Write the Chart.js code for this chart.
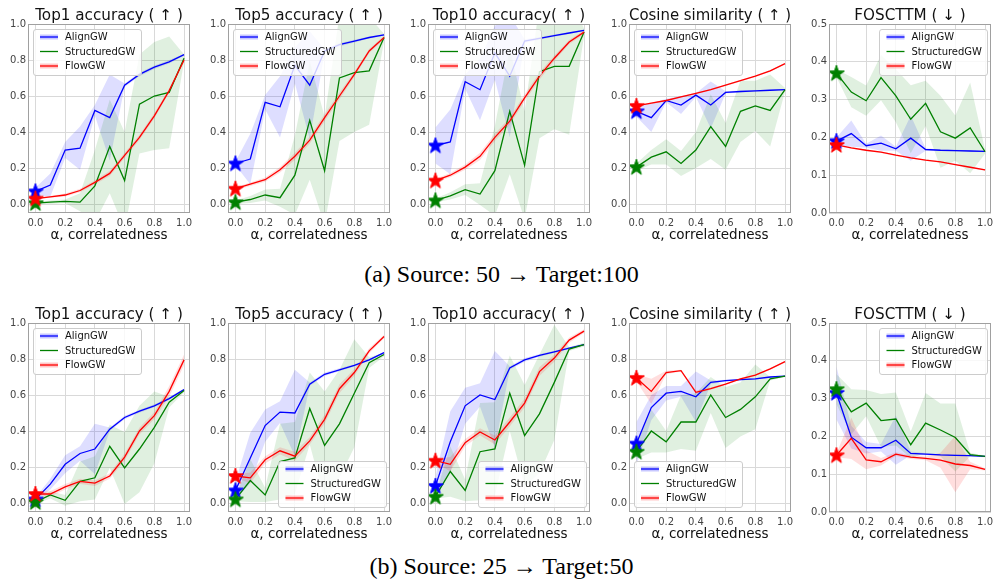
<!DOCTYPE html>
<html>
<head>
<meta charset="utf-8">
<script src="https://cdn.jsdelivr.net/npm/chart.js@4.4.0/dist/chart.umd.min.js"></script>
<style>
html, body { margin: 0; padding: 0; background: #fff; overflow: hidden; }
#fig { position: relative; width: 996px; height: 586px; }
#fig canvas { position: absolute; }
.cap { position: absolute; left: 0; width: 1003px; text-align: center; font-family: "Liberation Serif", "Times New Roman", serif; font-size: 24px; line-height: 24px; color: #000; }
</style>
</head>
<body>
<div id="fig">
  <div class="cap" style="top:262px">(a) Source: 50 → Target:100</div>
  <div class="cap" style="top:554px">(b) Source: 25 → Target:50</div>
</div>
<script>
// x values and ticks
const alphas = [0, 0.1, 0.2, 0.3, 0.4, 0.5, 0.6, 0.7, 0.8, 0.9, 1.0];
const xTicks = [0, 0.2, 0.4, 0.6, 0.8, 1.0];
const accTicks = [0, 0.2, 0.4, 0.6, 0.8, 1.0];
const fosTicks = [0, 0.1, 0.2, 0.3, 0.4, 0.5];
const methods = ['AlignGW', 'StructuredGW', 'FlowGW'];

// (a) Source: 50 -> Target: 100
const a1_align = [0.07, 0.105, 0.30, 0.31, 0.52, 0.48, 0.66, 0.72, 0.76, 0.79, 0.83];
const a1_align_sd = [0.02, 0.065, 0.045, 0.12, 0.03, 0.24, 0.01, 0.01, 0.01, 0.01, 0.005];
const a1_struct = [0.005, 0.01, 0.015, 0.01, 0.10, 0.32, 0.13, 0.555, 0.60, 0.62, 0.81];
const a1_struct_sd = [0.005, 0.01, 0.01, 0.05, 0.2, 0.26, 0.27, 0.275, 0.3, 0.31, 0.02];
const a1_flow = [0.03, 0.04, 0.05, 0.075, 0.12, 0.17, 0.27, 0.37, 0.49, 0.63, 0.80];
const a1_flow_sd = [0.005, 0.005, 0.008, 0.01, 0.012, 0.015, 0.015, 0.015, 0.015, 0.012, 0.01];

const a5_align = [0.225, 0.25, 0.565, 0.54, 0.77, 0.66, 0.85, 0.885, 0.905, 0.925, 0.94];
const a5_align_sd = [0.01, 0.14, 0.04, 0.17, 0.1, 0.3, 0.01, 0.01, 0.008, 0.006, 0.005];
const a5_struct = [0.01, 0.025, 0.05, 0.035, 0.16, 0.465, 0.185, 0.70, 0.73, 0.74, 0.925];
const a5_struct_sd = [0.01, 0.02, 0.03, 0.05, 0.22, 0.33, 0.3, 0.35, 0.33, 0.3, 0.02];
const a5_flow = [0.085, 0.11, 0.135, 0.19, 0.265, 0.355, 0.48, 0.60, 0.72, 0.85, 0.925];
const a5_flow_sd = [0.008, 0.01, 0.012, 0.015, 0.02, 0.02, 0.02, 0.02, 0.015, 0.012, 0.01];

const a10_align = [0.325, 0.345, 0.68, 0.635, 0.84, 0.71, 0.905, 0.92, 0.935, 0.95, 0.965];
const a10_align_sd = [0.1, 0.18, 0.04, 0.17, 0.15, 0.34, 0.01, 0.008, 0.006, 0.005, 0.004];
const a10_struct = [0.02, 0.045, 0.08, 0.055, 0.185, 0.515, 0.215, 0.735, 0.765, 0.765, 0.955];
const a10_struct_sd = [0.01, 0.02, 0.03, 0.06, 0.25, 0.35, 0.3, 0.37, 0.35, 0.38, 0.02];
const a10_flow = [0.13, 0.16, 0.205, 0.265, 0.37, 0.46, 0.59, 0.71, 0.81, 0.90, 0.955];
const a10_flow_sd = [0.01, 0.012, 0.015, 0.02, 0.02, 0.02, 0.02, 0.02, 0.015, 0.012, 0.01];

const ac_align = [0.515, 0.48, 0.575, 0.55, 0.605, 0.55, 0.62, 0.625, 0.628, 0.632, 0.635];
const ac_align_sd = [0.03, 0.08, 0.01, 0.05, 0.01, 0.13, 0.006, 0.005, 0.004, 0.004, 0.004];
const ac_struct = [0.205, 0.26, 0.29, 0.225, 0.30, 0.43, 0.32, 0.515, 0.545, 0.52, 0.635];
const ac_struct_sd = [0.02, 0.04, 0.07, 0.07, 0.1, 0.18, 0.13, 0.17, 0.14, 0.2, 0.01];
const ac_flow = [0.545, 0.56, 0.575, 0.595, 0.615, 0.635, 0.66, 0.685, 0.71, 0.74, 0.78];
const ac_flow_sd = [0.004, 0.004, 0.004, 0.004, 0.004, 0.004, 0.004, 0.004, 0.004, 0.004, 0.004];

const af_align = [0.19, 0.21, 0.178, 0.185, 0.17, 0.198, 0.168, 0.166, 0.165, 0.164, 0.163];
const af_align_sd = [0.01, 0.035, 0.005, 0.02, 0.005, 0.06, 0.003, 0.002, 0.002, 0.002, 0.002];
const af_struct = [0.37, 0.32, 0.297, 0.358, 0.31, 0.248, 0.29, 0.215, 0.198, 0.225, 0.162];
const af_struct_sd = [0.01, 0.04, 0.04, 0.06, 0.07, 0.09, 0.06, 0.095, 0.06, 0.12, 0.005];
const af_flow = [0.18, 0.172, 0.166, 0.161, 0.153, 0.146, 0.14, 0.135, 0.128, 0.121, 0.114];
const af_flow_sd = [0.002, 0.002, 0.002, 0.002, 0.002, 0.002, 0.002, 0.002, 0.002, 0.002, 0.002];

// (b) Source: 25 -> Target: 50
const b1_align = [0.02, 0.105, 0.215, 0.275, 0.30, 0.41, 0.475, 0.51, 0.54, 0.58, 0.63];
const b1_align_sd = [0.01, 0.03, 0.05, 0.04, 0.14, 0.01, 0.01, 0.008, 0.008, 0.006, 0.005];
const b1_struct = [0.005, 0.045, 0.015, 0.12, 0.14, 0.315, 0.195, 0.30, 0.42, 0.56, 0.625];
const b1_struct_sd = [0.01, 0.02, 0.03, 0.11, 0.12, 0.12, 0.2, 0.24, 0.2, 0.03, 0.01];
const b1_flow = [0.05, 0.05, 0.09, 0.12, 0.11, 0.15, 0.255, 0.40, 0.485, 0.62, 0.795];
const b1_flow_sd = [0.01, 0.015, 0.015, 0.015, 0.015, 0.015, 0.02, 0.02, 0.02, 0.03, 0.03];

const b5_align = [0.07, 0.25, 0.43, 0.505, 0.50, 0.66, 0.715, 0.74, 0.765, 0.795, 0.835];
const b5_align_sd = [0.05, 0.14, 0.09, 0.06, 0.24, 0.01, 0.01, 0.008, 0.006, 0.005, 0.005];
const b5_struct = [0.02, 0.125, 0.045, 0.23, 0.25, 0.525, 0.32, 0.44, 0.61, 0.78, 0.825];
const b5_struct_sd = [0.01, 0.12, 0.04, 0.21, 0.2, 0.2, 0.3, 0.3, 0.3, 0.03, 0.01];
const b5_flow = [0.15, 0.14, 0.24, 0.29, 0.26, 0.345, 0.465, 0.635, 0.725, 0.845, 0.925];
const b5_flow_sd = [0.01, 0.03, 0.02, 0.02, 0.025, 0.02, 0.025, 0.025, 0.02, 0.015, 0.01];

const b10_align = [0.095, 0.34, 0.54, 0.60, 0.575, 0.75, 0.795, 0.82, 0.84, 0.86, 0.88];
const b10_align_sd = [0.05, 0.17, 0.1, 0.065, 0.27, 0.01, 0.01, 0.008, 0.006, 0.005, 0.004];
const b10_struct = [0.035, 0.175, 0.07, 0.285, 0.30, 0.61, 0.375, 0.495, 0.67, 0.855, 0.88];
const b10_struct_sd = [0.01, 0.14, 0.06, 0.27, 0.26, 0.21, 0.28, 0.33, 0.32, 0.01, 0.01];
const b10_flow = [0.235, 0.215, 0.335, 0.395, 0.35, 0.45, 0.555, 0.73, 0.805, 0.905, 0.955];
const b10_flow_sd = [0.01, 0.04, 0.02, 0.02, 0.025, 0.025, 0.025, 0.025, 0.02, 0.015, 0.01];

const bc_align = [0.33, 0.53, 0.61, 0.62, 0.59, 0.67, 0.68, 0.685, 0.69, 0.70, 0.705];
const bc_align_sd = [0.12, 0.07, 0.04, 0.03, 0.14, 0.01, 0.005, 0.005, 0.004, 0.004, 0.004];
const bc_struct = [0.285, 0.40, 0.34, 0.45, 0.45, 0.60, 0.475, 0.52, 0.59, 0.69, 0.705];
const bc_struct_sd = [0.04, 0.12, 0.06, 0.15, 0.16, 0.1, 0.17, 0.15, 0.18, 0.01, 0.005];
const bc_flow = [0.695, 0.62, 0.725, 0.735, 0.615, 0.635, 0.66, 0.69, 0.71, 0.745, 0.785];
const bc_flow_sd = [0.02, 0.07, 0.01, 0.005, 0.01, 0.006, 0.005, 0.005, 0.005, 0.005, 0.005];

const bf_align = [0.315, 0.198, 0.17, 0.17, 0.19, 0.155, 0.153, 0.151, 0.15, 0.149, 0.147];
const bf_align_sd = [0.07, 0.03, 0.015, 0.01, 0.065, 0.005, 0.003, 0.002, 0.002, 0.002, 0.002];
const bf_struct = [0.325, 0.265, 0.288, 0.242, 0.246, 0.178, 0.235, 0.217, 0.197, 0.152, 0.147];
const bf_struct_sd = [0.04, 0.06, 0.035, 0.07, 0.07, 0.035, 0.08, 0.07, 0.09, 0.005, 0.002];
const bf_flow = [0.15, 0.195, 0.138, 0.133, 0.153, 0.145, 0.142, 0.137, 0.127, 0.123, 0.113];
const bf_flow_sd = [0.005, 0.055, 0.025, 0.01, 0.005, 0.005, 0.005, 0.02, 0.075, 0.01, 0.003];

const colors = ['#0000ff', '#008000', '#ff0000'];
const bandColors = ['rgba(0,0,255,0.13)', 'rgba(0,128,0,0.12)', 'rgba(255,0,0,0.13)'];
const haloColors = ['rgba(0,0,255,0.22)', null, 'rgba(255,0,0,0.22)'];
const FONT = '"DejaVu Sans", Verdana, sans-serif';

const panels = [
  { row: 0, col: 0, title: 'Top1 accuracy ( ↑ )', fos: false, legend: 'upper left',
    series: [[a1_align, a1_align_sd], [a1_struct, a1_struct_sd], [a1_flow, a1_flow_sd]] },
  { row: 0, col: 1, title: 'Top5 accuracy ( ↑ )', fos: false, legend: 'upper left',
    series: [[a5_align, a5_align_sd], [a5_struct, a5_struct_sd], [a5_flow, a5_flow_sd]] },
  { row: 0, col: 2, title: 'Top10 accuracy( ↑ )', fos: false, legend: 'upper left',
    series: [[a10_align, a10_align_sd], [a10_struct, a10_struct_sd], [a10_flow, a10_flow_sd]] },
  { row: 0, col: 3, title: 'Cosine similarity ( ↑ )', fos: false, legend: 'upper left',
    series: [[ac_align, ac_align_sd], [ac_struct, ac_struct_sd], [ac_flow, ac_flow_sd]] },
  { row: 0, col: 4, title: 'FOSCTTM ( ↓ )', fos: true, legend: 'upper right',
    series: [[af_align, af_align_sd], [af_struct, af_struct_sd], [af_flow, af_flow_sd]] },
  { row: 1, col: 0, title: 'Top1 accuracy ( ↑ )', fos: false, legend: 'upper left',
    series: [[b1_align, b1_align_sd], [b1_struct, b1_struct_sd], [b1_flow, b1_flow_sd]] },
  { row: 1, col: 1, title: 'Top5 accuracy ( ↑ )', fos: false, legend: 'lower right',
    series: [[b5_align, b5_align_sd], [b5_struct, b5_struct_sd], [b5_flow, b5_flow_sd]] },
  { row: 1, col: 2, title: 'Top10 accuracy( ↑ )', fos: false, legend: 'lower right',
    series: [[b10_align, b10_align_sd], [b10_struct, b10_struct_sd], [b10_flow, b10_flow_sd]] },
  { row: 1, col: 3, title: 'Cosine similarity ( ↑ )', fos: false, legend: 'lower left',
    series: [[bc_align, bc_align_sd], [bc_struct, bc_struct_sd], [bc_flow, bc_flow_sd]] },
  { row: 1, col: 4, title: 'FOSCTTM ( ↓ )', fos: true, legend: 'upper right',
    series: [[bf_align, bf_align_sd], [bf_struct, bf_struct_sd], [bf_flow, bf_flow_sd]] }
];

const canvasLefts = [0, 200, 400, 601, 801];
const rowTops = [0, 299];

// filled five point star used as the marker at alpha = 0
function starImage(color) {
  const c = document.createElement('canvas');
  c.width = 20; c.height = 20;
  const g = c.getContext('2d');
  g.beginPath();
  for (let k = 0; k < 10; k++) {
    const r = k % 2 ? 3.3 : 8.4;
    const t = -Math.PI / 2 + k * Math.PI / 5;
    const px = 10 + r * Math.cos(t), py = 10.5 + r * Math.sin(t);
    if (k === 0) g.moveTo(px, py); else g.lineTo(px, py);
  }
  g.closePath();
  g.fillStyle = color; g.fill();
  g.strokeStyle = color; g.lineWidth = 1; g.stroke();
  return c;
}
const stars = colors.map(starImage);

// axes frame + matplotlib-like legend inside the plot area
const boxLegend = {
  id: 'boxLegend',
  afterDatasetsDraw(chart, args, opts) {
    const { ctx, chartArea: a } = chart;
    ctx.save();
    ctx.strokeStyle = '#a0a0a0';
    ctx.lineWidth = 1;
    ctx.strokeRect(Math.round(a.left) + 0.5, Math.round(a.top) + 0.5,
      Math.round(a.width) - 1, Math.round(a.height) - 1);

    ctx.font = '10px ' + FONT;
    const tw = Math.max(...methods.map(m => ctx.measureText(m).width));
    const w = 7 + 18 + 7 + tw + 5, h = 46;
    const x = opts.pos.endsWith('right') ? a.right - 4 - w : a.left + 5;
    const y = opts.pos.startsWith('lower') ? a.bottom - 5 - h : a.top + 5;
    ctx.beginPath();
    ctx.roundRect(Math.round(x) + 0.5, Math.round(y) + 0.5, Math.round(w), h, 2.5);
    ctx.fillStyle = 'rgba(255,255,255,0.8)';
    ctx.fill();
    ctx.strokeStyle = '#cccccc';
    ctx.stroke();
    methods.forEach((m, i) => {
      const cy = y + 8 + i * 14.5;
      if (haloColors[i]) {
        ctx.strokeStyle = haloColors[i];
        ctx.lineWidth = 5;
        ctx.beginPath(); ctx.moveTo(x + 7, cy); ctx.lineTo(x + 25, cy); ctx.stroke();
      }
      ctx.strokeStyle = colors[i];
      ctx.lineWidth = 1.3;
      ctx.beginPath(); ctx.moveTo(x + 7, cy); ctx.lineTo(x + 25, cy); ctx.stroke();
      ctx.fillStyle = '#111';
      ctx.textBaseline = 'middle';
      ctx.textAlign = 'left';
      ctx.fillText(m, x + 32, cy + 0.5);
    });
    ctx.restore();
  }
};

function buildDatasets(series) {
  const ds = [];
  series.forEach(([mean, sd], i) => {
    ds.push({
      data: alphas.map((x, k) => ({ x, y: mean[k] + sd[k] })),
      fill: '+1', backgroundColor: bandColors[i], borderColor: 'transparent',
      borderWidth: 0, pointRadius: 0, order: 12 - i
    });
    ds.push({
      data: alphas.map((x, k) => ({ x, y: mean[k] - sd[k] })),
      fill: false, borderColor: 'transparent', borderWidth: 0, pointRadius: 0, order: 12 - i
    });
    ds.push({
      label: methods[i],
      data: alphas.map((x, k) => ({ x, y: mean[k] })),
      fill: false, borderColor: colors[i], borderWidth: 1.3, pointRadius: 0,
      tension: 0, order: 5 - i
    });
    ds.push({
      data: [{ x: alphas[0], y: mean[0] }],
      showLine: false, pointStyle: stars[i], pointRadius: 9, order: 2 - i
    });
  });
  return ds;
}

const fig = document.getElementById('fig');
panels.forEach(p => {
  const canvas = document.createElement('canvas');
  canvas.width = 200; canvas.height = 250;
  canvas.style.left = canvasLefts[p.col] + 'px';
  canvas.style.top = rowTops[p.row] + 'px';
  fig.appendChild(canvas);
  const yTicks = p.fos ? fosTicks : accTicks;
  new Chart(canvas, {
    type: 'line',
    data: { datasets: buildDatasets(p.series) },
    options: {
      responsive: false,
      animation: false,
      devicePixelRatio: 1,
      events: [],
      layout: { padding: { left: 0, right: 6, top: 0, bottom: 0 } },
      plugins: {
        legend: { display: false },
        tooltip: { enabled: false },
        boxLegend: { pos: p.legend }
      },
      scales: {
        x: {
          type: 'linear', min: -0.05, max: 1.04,
          afterBuildTicks: s => { s.ticks = xTicks.map(v => ({ value: v })); },
          afterFit: s => { s.height = 37; },
          ticks: {
            color: '#444', font: { family: FONT, size: 10 }, padding: 4,
            maxRotation: 0, autoSkip: false, callback: v => v.toFixed(1)
          },
          grid: { color: '#d9d9d9', lineWidth: 1, drawTicks: false },
          border: { display: false },
          title: {
            display: true, text: 'α, correlatedness', color: '#111',
            font: { family: FONT, size: 13.5 }, padding: { top: 0, bottom: 6.5 }
          }
        },
        // top axis only carries the panel title, centred over the plot area
        top: {
          type: 'linear', position: 'top', min: -0.05, max: 1.04,
          afterFit: s => { s.height = 24; },
          ticks: { display: false },
          grid: { display: false, drawTicks: false },
          border: { display: false },
          title: {
            display: true, text: p.title, color: '#111',
            font: { family: FONT, size: 15.2, lineHeight: 1.2 }, padding: { top: 6.7, bottom: 0 }
          }
        },
        y: {
          type: 'linear', min: p.fos ? 0 : -0.05, max: p.fos ? 0.5 : 1.0,
          afterBuildTicks: s => { s.ticks = yTicks.map(v => ({ value: v })); },
          afterFit: s => { s.width = 28; },
          ticks: {
            color: '#444', font: { family: FONT, size: 10 }, padding: 2,
            autoSkip: false, callback: v => v.toFixed(1)
          },
          grid: { color: '#d9d9d9', lineWidth: 1, drawTicks: false },
          border: { display: false }
        }
      }
    },
    plugins: [boxLegend]
  });
});
</script>
</body>
</html>
